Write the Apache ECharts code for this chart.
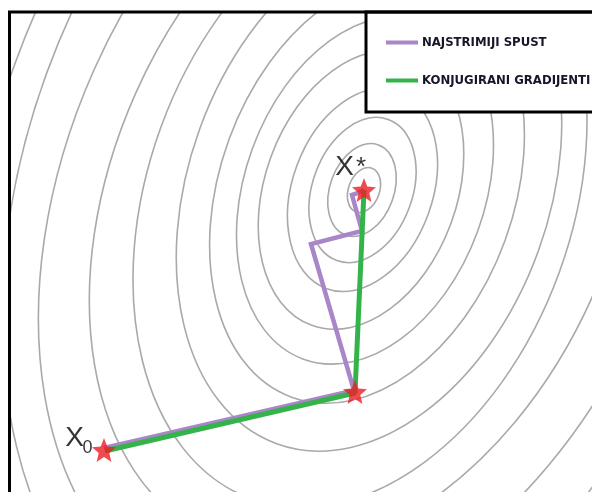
<!DOCTYPE html>
<html><head><meta charset="utf-8">
<script src="https://cdn.jsdelivr.net/npm/echarts@6/dist/echarts.min.js"></script>
<style>html,body{margin:0;padding:0;background:#fff}#c{width:592px;height:492px}</style>
</head><body><div id="c"></div>
<script>
// contour rings (ellipses)
const ringCx   = [364, 362, 362.5, 362.5, 361, 365, 367, 369, 360, 364, 368, 367, 367];
const ringCy   = [190, 190, 190, 190, 190, 190, 190, 190, 200, 195, 192, 190, 190];
const ringA    = [15.5, 32, 50, 70, 96, 120, 147, 180, 212, 250, 300, 341, 374]; // semi-minor axes
const ringTilt = [20, 20, 20, 20, 20, 20, 20, 20, 20, 24, 24, 20, 20];            // degrees, top leans right
const ringRatio = 1.5;      // major / minor

// optimisation paths
const seriesNames = ['NAJSTRIMIJI SPUST', 'KONJUGIRANI GRADIJENTI'];
const steepest  = [[104, 448], [354, 390.5], [311, 244], [362, 231], [352, 195], [358, 193], [364, 190]];
const conjugate = [[105, 451], [355, 393], [364, 190]];
const stars     = [[104, 450], [355, 392], [364, 190]];

// point labels
const labelText = ['X', '0', 'X', '*'];
const labelX    = [74.5, 87.5, 344.5, 361];
const labelY    = [438, 448.5, 167.5, 168];
const labelSize = [28, 18, 28, 26];

const GRID = {left: 10, top: 12, right: 0, bottom: 0};
const W = 592, H = 492;
const starPath = 'path://M50,2 L62.93,34.2 L97.55,36.55 L70.92,58.8 L79.39,92.45 L50,74 L20.61,92.45 L29.08,58.8 L2.45,36.55 L37.07,34.2 Z';

const chart = echarts.init(document.getElementById('c'), null, {renderer: 'canvas'});
chart.setOption({
  animation: false,
  backgroundColor: '#fff',
  grid: Object.assign({show: false, outerBoundsMode: 'none'}, GRID),
  xAxis: {type: 'value', min: GRID.left, max: W - GRID.right, show: false},
  yAxis: {type: 'value', min: GRID.top, max: H - GRID.bottom, inverse: true, show: false},
  legend: {
    left: 366, top: 12, orient: 'vertical',
    data: seriesNames, icon: 'rect', itemWidth: 32, itemHeight: 4, itemGap: 25,
    padding: [24, 40, 25, 20],
    backgroundColor: '#fff', borderColor: '#000', borderWidth: 3,
    textStyle: {fontFamily: "'Liberation Sans Narrow', 'DejaVu Sans Condensed', 'Liberation Sans', sans-serif",
                fontWeight: 'bold', fontSize: 13, color: '#16162a', padding: [0, 0, 0, -1]},
    selectedMode: false
  },
  graphic: [{
    type: 'polyline', z: 50,
    shape: {points: [[GRID.left - 0.5, H], [GRID.left - 0.5, GRID.top], [W, GRID.top]]},
    style: {stroke: '#000', lineWidth: 3, fill: null}
  }],
  series: [
    {
      type: 'custom', silent: true, z: 1,
      data: ringA.map((a, i) => [ringCx[i], ringCy[i], a, ringTilt[i]]),
      renderItem(params, api) {
        const c = api.coord([api.value(0), api.value(1)]);
        const rx = api.size([api.value(2), 0])[0];
        const ry = api.size([0, api.value(2) * ringRatio])[1];
        const cs = params.coordSys;
        return {
          type: 'group',
          clipPath: {type: 'rect', shape: {x: cs.x, y: cs.y, width: cs.width, height: cs.height}},
          children: [{
            type: 'group', x: c[0], y: c[1], rotation: -api.value(3) * Math.PI / 180,
            children: [{type: 'ellipse', shape: {cx: 0, cy: 0, rx: rx, ry: ry},
                        style: {fill: null, stroke: '#a9a9a9', lineWidth: 1.6}}]
          }]
        };
      }
    },
    {
      name: seriesNames[0], type: 'line', data: steepest, symbol: 'none', z: 3,
      color: '#a886c8', lineStyle: {width: 4.5, color: '#a886c8', join: 'miter'}
    },
    {
      name: seriesNames[1], type: 'line', data: conjugate, symbol: 'none', z: 4,
      color: '#34b34a', lineStyle: {width: 5, color: '#34b34a'}
    },
    {
      type: 'scatter', data: stars, symbol: starPath, symbolSize: 24, z: 6,
      itemStyle: {color: '#ee1c24'}, silent: true
    },
    {
      type: 'scatter', symbolSize: 0, z: 7, silent: true,
      data: labelText.map((t, i) => ({
        value: [labelX[i], labelY[i]],
        label: {show: true, position: 'inside', formatter: t, fontSize: labelSize[i],
                color: '#000', fontFamily: "'Liberation Sans', Arial, sans-serif"}
      }))
    }
  ]
});
</script></body></html>
